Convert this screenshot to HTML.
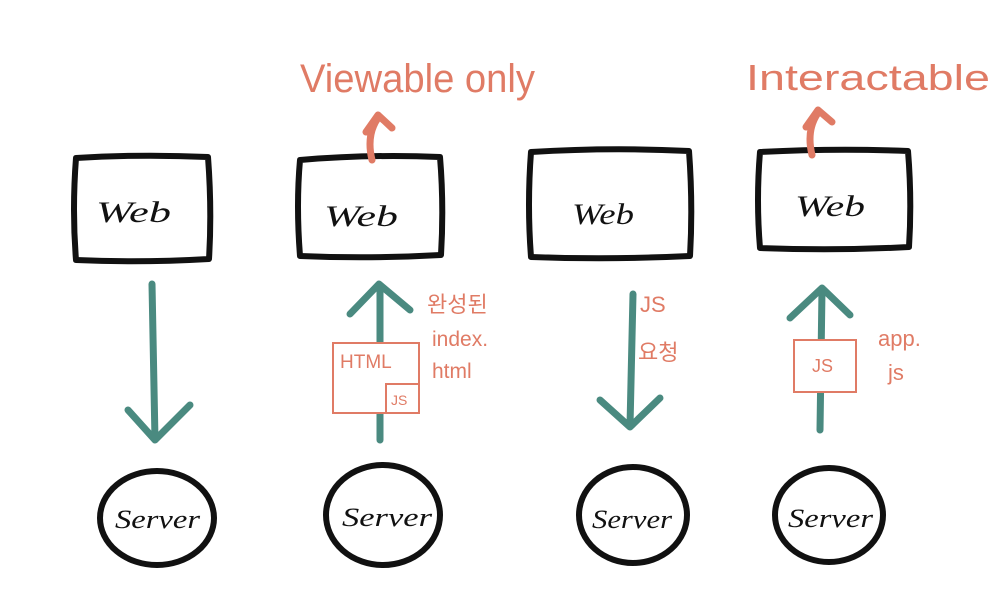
<!DOCTYPE html>
<html><head><meta charset="utf-8"><style>
html,body{margin:0;padding:0;background:#fff;width:1002px;height:594px;overflow:hidden}
svg{display:block}
.w{font-family:"Liberation Serif",serif;font-style:italic;font-size:30px;fill:#111}
.o{font-family:"Liberation Sans","Noto Sans CJK KR",sans-serif;fill:#e07b65}
</style></head><body>
<svg width="1002" height="594" viewBox="0 0 1002 594" xmlns="http://www.w3.org/2000/svg">
<g fill="none" stroke="#111" stroke-width="6" stroke-linecap="round" stroke-linejoin="round">
<path d="M76 158 Q140 154 208 157 Q212 210 209 259 Q140 263 76 260 Q72 210 76 158Z"/>
<path d="M300 160 Q370 154 440 157 Q444 205 441 255 Q370 259 300 256 Q296 205 300 160Z"/>
<path d="M531 152 Q610 147 689 151 Q693 205 690 256 Q610 260 531 257 Q527 205 531 152Z"/>
<path d="M760 152 Q835 148 908 151 Q912 200 909 247 Q835 251 760 248 Q756 200 760 152Z"/>
<ellipse cx="157" cy="518" rx="57" ry="47"/>
<ellipse cx="383" cy="515" rx="57" ry="50"/>
<ellipse cx="633" cy="515" rx="54" ry="48"/>
<ellipse cx="829" cy="515" rx="54" ry="47"/>
</g>
<g class="w">
<text x="96" y="222" textLength="75" lengthAdjust="spacingAndGlyphs">Web</text>
<text x="324" y="226" textLength="74" lengthAdjust="spacingAndGlyphs">Web</text>
<text x="572" y="224" textLength="62" lengthAdjust="spacingAndGlyphs">Web</text>
<text x="795" y="216" textLength="70" lengthAdjust="spacingAndGlyphs">Web</text>
<text x="115" y="528" font-size="26" textLength="85" lengthAdjust="spacingAndGlyphs">Server</text>
<text x="342" y="526" font-size="26" textLength="90" lengthAdjust="spacingAndGlyphs">Server</text>
<text x="592" y="528" font-size="26" textLength="80" lengthAdjust="spacingAndGlyphs">Server</text>
<text x="788" y="527" font-size="26" textLength="85" lengthAdjust="spacingAndGlyphs">Server</text>
</g>
<g fill="none" stroke="#4a8a80" stroke-width="7" stroke-linecap="round" stroke-linejoin="round">
<path d="M152 284 L155 440 M128 410 L155 440 L190 405"/>
<path d="M380 440 L380 286 M350 314 L379 284 L410 310"/>
<path d="M633 294 L630 426 M600 400 L630 427 L660 398"/>
<path d="M820 430 L822 290 M790 318 L822 288 L850 315"/>
</g>
<g fill="none" stroke="#e07b65" stroke-width="7" stroke-linecap="round" stroke-linejoin="round">
<path d="M372 160 Q366 135 378 118 M366 132 L378 115 L392 128"/>
<path d="M812 155 Q806 130 818 113 M806 127 L818 110 L832 122"/>
</g>
<g fill="#fff" stroke="#e07b65" stroke-width="2">
<rect x="333" y="343" width="86" height="70"/>
<rect x="386" y="384" width="33" height="29"/>
<rect x="794" y="340" width="62" height="52"/>
</g>
<g class="o">
<text x="300" y="92" font-size="40" textLength="235" lengthAdjust="spacingAndGlyphs">Viewable only</text>
<text x="746" y="90" font-size="36" textLength="244" lengthAdjust="spacingAndGlyphs">Interactable</text>
<text x="340" y="368" font-size="19">HTML</text>
<text x="391" y="405" font-size="14">JS</text>
<text x="812" y="372" font-size="18">JS</text>
<text x="427" y="312" font-size="22">완성된</text>
<text x="432" y="346" font-size="21">index.</text>
<text x="432" y="378" font-size="21">html</text>
<text x="640" y="312" font-size="22">JS</text>
<text x="638" y="360" font-size="22">요청</text>
<text x="878" y="346" font-size="22">app.</text>
<text x="888" y="380" font-size="22">js</text>
</g>
</svg>
</body></html>
